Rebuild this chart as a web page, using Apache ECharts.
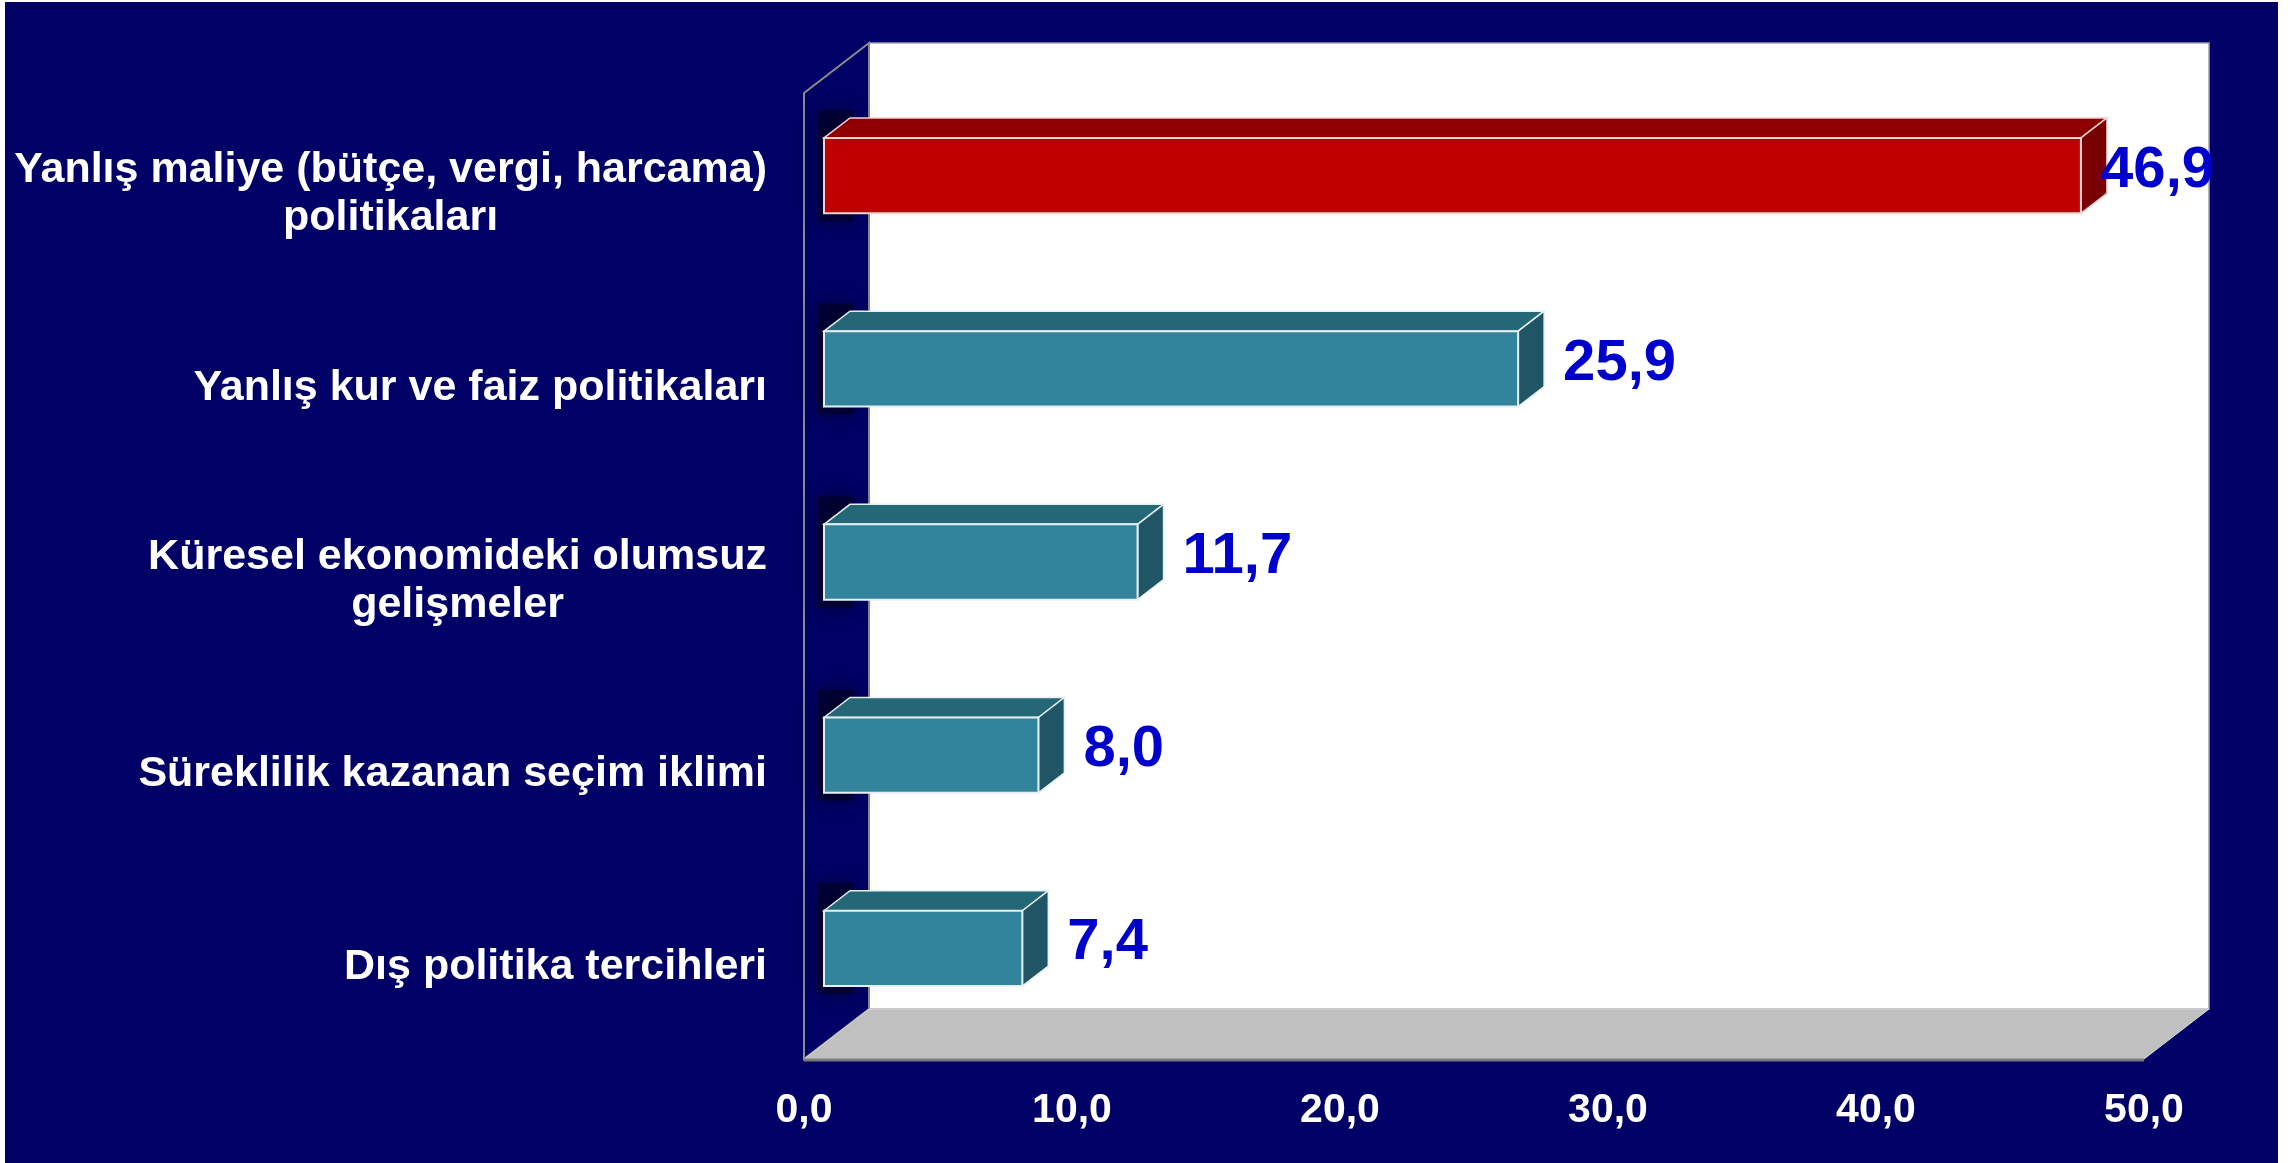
<!DOCTYPE html>
<html>
<head>
<meta charset="utf-8">
<script src="https://cdn.jsdelivr.net/npm/echarts@6/dist/echarts.min.js"></script>
<style>
  html, body { margin: 0; padding: 0; background: #ffffff; }
  #chart { width: 2295px; height: 1163px; }
</style>
</head>
<body>
<div id="chart"></div>
<script>
// kategoriler (yukaridan asagi)
var categories = [
    'Yanlış maliye (bütçe, vergi, harcama)\npolitikaları',
    'Yanlış kur ve faiz politikaları',
    'Küresel ekonomideki olumsuz\ngelişmeler',
    'Süreklilik kazanan seçim iklimi',
    'Dış politika tercihleri'
];
var values = [46.9, 25.9, 11.7, 8.0, 7.4];
var xMin = 0, xMax = 50, xStep = 10;

var FONT = '"Liberation Sans", Arial, sans-serif';
var NAVY = '#000066';
// duvar derinligi ve cubuk kaydirma
var WALL = [65, -50];
var SHIFT = [20, -14];
var DEPTH = [26, -20];

function fmt(v){
    return v.toFixed(1).replace('.', ',');
}

var measureCtx = document.createElement('canvas').getContext('2d');
function textWidth(txt, font){
    measureCtx.font = font;
    return measureCtx.measureText(txt).width;
}

var chart = echarts.init(document.getElementById('chart'));

/*arka duvar, sol duvar, zemin*/
function renderFrame(params, api){
    var cs = params.coordSys;
    var x = cs.x, y = cs.y, w = cs.width, h = cs.height;
    return {
        type: 'group',
        children: [
            {
                type: 'rect',
                shape: { x: x + WALL[0], y: y + WALL[1], width: w, height: h },
                style: { fill: '#ffffff', stroke: '#a0a0b0', lineWidth: 1.5 }
            },
            {
                type: 'polygon',
                shape: { points: [[x, y], [x + WALL[0], y + WALL[1]], [x + WALL[0], y + h + WALL[1]], [x, y + h]] },
                style: { fill: NAVY, stroke: '#8a8a8a', lineWidth: 2 }
            },
            {
                type: 'polygon',
                shape: { points: [[x, y + h], [x + WALL[0], y + h + WALL[1]], [x + w + WALL[0], y + h + WALL[1]], [x + w, y + h]] },
                style: { fill: '#c0c0c0', stroke: '#d8d8d8', lineWidth: 1 }
            },
            {
                type: 'line',
                shape: { x1: x, y1: y + h + 1, x2: x + w, y2: y + h + 1 },
                style: { stroke: '#7a7a7a', lineWidth: 3 }
            }
        ]
    };
}

/*3B cubuklar*/
function renderBar(params, api){
    var cs = params.coordSys;
    var v = api.value(0), c = api.value(1);
    var p0 = api.coord([0, c]);
    var p1 = api.coord([v, c]);
    var bh = api.size([0, 1])[1] * 0.39;
    var fx = p0[0] + SHIFT[0];
    var fy = p0[1] + SHIFT[1] - bh / 2;
    var fw = p1[0] - p0[0];
    var red = params.dataIndex === 0;
    var cFront = red ? '#c00000' : '#31849b';
    var cTop = red ? '#8e0000' : '#246776';
    var cSide = red ? '#790000' : '#1f5564';
    var edge = red ? '#f0d0d0' : '#e6f0f4';
    var dx = DEPTH[0], dy = DEPTH[1];

    var txt = fmt(v);
    var lfont = 'bold 58px ' + FONT;
    var tw = textWidth(txt, lfont);
    var lx = fx + fw + 45;
    var wallRight = cs.x + cs.width + WALL[0];
    if (lx + tw > wallRight + 5) {
        lx = wallRight + 5 - tw;
    }

    return {
        type: 'group',
        children: [
            {
                type: 'rect',
                shape: { x: fx - 6, y: fy + dy - 8, width: dx + 10, height: bh - dy + 16 },
                style: { fill: 'rgba(0,0,30,0.55)', shadowBlur: 22, shadowColor: 'rgba(0,0,20,0.9)' }
            },
            {
                type: 'polygon',
                shape: { points: [[fx, fy], [fx + dx, fy + dy], [fx + fw + dx, fy + dy], [fx + fw, fy]] },
                style: { fill: cTop, stroke: edge, lineWidth: 1.5 }
            },
            {
                type: 'polygon',
                shape: { points: [[fx + fw, fy], [fx + fw + dx, fy + dy], [fx + fw + dx, fy + bh + dy], [fx + fw, fy + bh]] },
                style: { fill: cSide, stroke: edge, lineWidth: 1.5 }
            },
            {
                type: 'rect',
                shape: { x: fx, y: fy, width: fw, height: bh },
                style: { fill: cFront, stroke: edge, lineWidth: 2 }
            },
            {
                type: 'text',
                style: {
                    text: txt,
                    x: lx,
                    y: fy + bh / 2 - 5,
                    fill: '#0000cc',
                    font: lfont,
                    align: 'left',
                    verticalAlign: 'middle'
                }
            }
        ]
    };
}

var barData = values.map(function(v, i){ return [v, i]; });

var option = {
    backgroundColor: '#ffffff',
    animation: false,
    graphic: [{
        type: 'rect',
        z: -1,
        shape: { x: 5, y: 2, width: 2273, height: 1161 },
        style: { fill: NAVY }
    }],
    grid: { left: 804, right: 151, top: 93, bottom: 104 },
    xAxis: {
        type: 'value',
        min: xMin,
        max: xMax,
        interval: xStep,
        axisLine: { show: false },
        axisTick: { show: false },
        splitLine: { show: false },
        axisLabel: {
            margin: 31,
            color: '#ffffff',
            fontFamily: FONT,
            fontWeight: 'bold',
            fontSize: 41,
            formatter: fmt
        }
    },
    yAxis: {
        type: 'category',
        inverse: true,
        data: categories,
        axisLine: { show: false },
        axisTick: { show: false },
        splitLine: { show: false },
        axisLabel: {
            margin: 37,
            padding: [10, 0, 0, 0],
            formatter: function(s){
                return s.split('\n').map(function(l){ return '{a|' + l + '}'; }).join('\n');
            },
            rich: {
                a: {
                    align: 'center',
                    color: '#ffffff',
                    fontFamily: FONT,
                    fontWeight: 'bold',
                    fontSize: 43,
                    lineHeight: 48
                }
            }
        }
    },
    series: [
        {
            type: 'custom',
            name: 'frame',
            z: 1,
            silent: true,
            renderItem: renderFrame,
            data: [[0, 0]],
            encode: { x: 0, y: 1 }
        },
        {
            type: 'custom',
            name: 'values',
            z: 2,
            renderItem: renderBar,
            data: barData,
            encode: { x: 0, y: 1 }
        }
    ]
};
chart.setOption(option);
window.addEventListener('resize', function(){
    chart.resize();
});
</script>
</body>
</html>
